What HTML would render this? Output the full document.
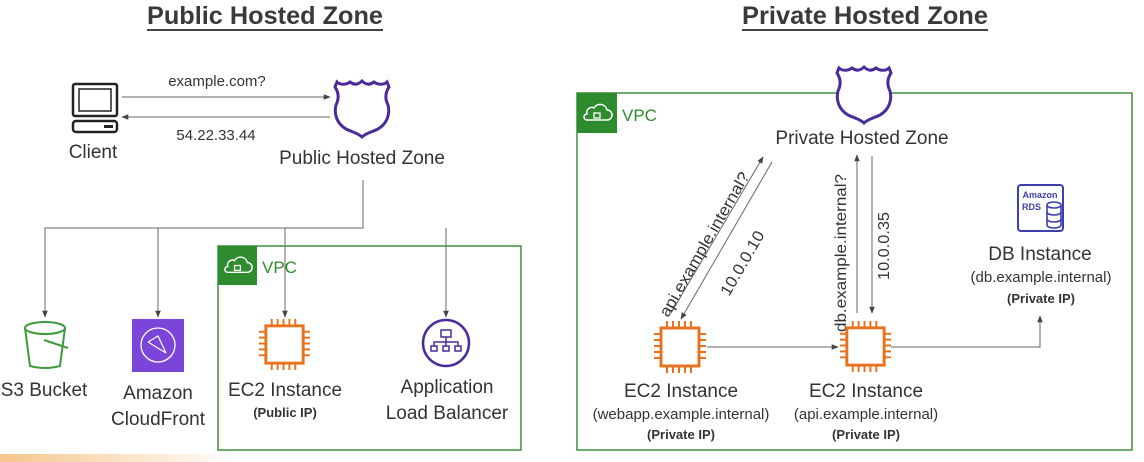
<!DOCTYPE html>
<html><head><meta charset="utf-8"><style>
body{margin:0;background:#fff}
svg{display:block;font-family:"Liberation Sans",sans-serif}
</style></head><body>
<svg width="1144" height="462" viewBox="0 0 1144 462" xmlns="http://www.w3.org/2000/svg">
<defs>
<marker id="a" viewBox="0 0 10 10" refX="9" refY="5" markerWidth="7" markerHeight="7" orient="auto"><path d="M0,1 L10,5 L0,9z" fill="#444"/></marker>
<linearGradient id="og" x1="0" x2="1"><stop offset="0" stop-color="#f0a040"/><stop offset="1" stop-color="#fff"/></linearGradient>
<symbol id="shield" viewBox="0 0 60 62"><path d="M30,4 C26,8 22,8 18,5 C14,8 8,8 5,5 L3,10 C7,16 7,22 4,28 C2,36 4,46 14,52 C20,55 26,56 30,60 C34,56 40,55 46,52 C56,46 58,36 56,28 C53,22 53,16 57,10 L55,5 C52,8 46,8 42,5 C38,8 34,8 30,4Z" fill="none" stroke="#4b2a9a" stroke-width="3"/></symbol>
<symbol id="chip" viewBox="0 0 54 54"><rect x="8" y="8" width="38" height="38" fill="none" stroke="#e8731e" stroke-width="3"/><g stroke="#e8731e" stroke-width="2"><path d="M14,1v7M20,1v7M26,1v7M32,1v7M38,1v7M14,46v7M20,46v7M26,46v7M32,46v7M38,46v7M1,14h7M1,20h7M1,26h7M1,32h7M1,38h7M46,14h7M46,20h7M46,26h7M46,32h7M46,38h7"/></g></symbol>
<symbol id="vpc" viewBox="0 0 40 40"><rect width="40" height="40" fill="#2e8b2e"/><path d="M10,27 h20 a5,5 0 0 0 0-10 a7,7 0 0 0-13-2 a5,5 0 0 0-7,6 a3,3 0 0 0 0,6z" fill="none" stroke="#fff" stroke-width="1.5"/><rect x="17" y="20" width="6" height="5" fill="none" stroke="#fff" stroke-width="1.3"/></symbol>
</defs>
<rect x="0" y="454" width="240" height="8" fill="url(#og)" opacity=".6"/>
<g font-weight="bold" fill="#3a3a3a" font-size="25">
<text x="147" y="24" textLength="236" lengthAdjust="spacingAndGlyphs">Public Hosted Zone</text>
<text x="742" y="24" textLength="246" lengthAdjust="spacingAndGlyphs">Private Hosted Zone</text>
</g>
<rect x="147" y="29" width="236" height="2" fill="#444"/>
<rect x="742" y="29" width="246" height="2" fill="#444"/>

<!-- Public side -->
<g fill="none" stroke="#222" stroke-width="2.5"><rect x="73" y="84" width="44" height="32" rx="2"/><rect x="79" y="89" width="32" height="22" stroke-width="1.5"/><rect x="73" y="121" width="44" height="11" rx="3"/></g>
<rect x="104" y="125" width="9" height="3" fill="#222"/>
<text x="93" y="158" font-size="19" text-anchor="middle" fill="#333">Client</text>
<use href="#shield" x="332" y="77" width="60" height="62"/>
<g stroke="#666" stroke-width="1" fill="none">
<line x1="122" y1="97" x2="330" y2="97" marker-end="url(#a)"/>
<line x1="330" y1="117" x2="122" y2="117" marker-end="url(#a)"/>
<path d="M363,180 V228 H45 V317" marker-end="url(#a)"/>
<path d="M158,228 V317" marker-end="url(#a)"/>
<path d="M285,228 V317" marker-end="url(#a)"/>
<path d="M446,228 V317" marker-end="url(#a)"/>
</g>
<text x="217" y="86" font-size="15" text-anchor="middle" fill="#333">example.com?</text>
<text x="216" y="140" font-size="15" text-anchor="middle" fill="#333">54.22.33.44</text>
<text x="362" y="164" font-size="19" text-anchor="middle" fill="#333">Public Hosted Zone</text>
<rect x="218" y="246" width="303" height="204" fill="none" stroke="#3f8f3f" stroke-width="1.5"/>
<use href="#vpc" x="218" y="246" width="39" height="39"/>
<text x="262" y="273" font-size="17" fill="#2e8b2e">VPC</text>
<!-- S3 -->
<g fill="none" stroke="#3c9a3c" stroke-width="2"><ellipse cx="45" cy="328" rx="20" ry="6"/><path d="M25,328 L30,366 Q45,370 60,366 L65,328"/><path d="M44,340 L68,348"/></g>
<text x="44" y="396" font-size="19" text-anchor="middle" fill="#333">S3 Bucket</text>
<!-- CF -->
<rect x="132" y="319" width="52" height="53" fill="#7a45d8"/>
<circle cx="158" cy="345" r="17" fill="none" stroke="#fff" stroke-width="1.3"/>
<path d="M148,342 L158,336 L166,353 M148,342 L166,353" stroke="#fff" stroke-width="1.2" fill="none"/>
<text x="158" y="399" font-size="19" text-anchor="middle" fill="#333">Amazon</text>
<text x="158" y="425" font-size="19" text-anchor="middle" fill="#333">CloudFront</text>
<use href="#chip" x="258" y="318" width="53" height="53"/>
<text x="285" y="396" font-size="19" text-anchor="middle" fill="#333">EC2 Instance</text>
<text x="285" y="417" font-size="13" font-weight="bold" text-anchor="middle" fill="#333">(Public IP)</text>
<circle cx="446" cy="343" r="23" fill="none" stroke="#4b2a9a" stroke-width="2.5"/>
<g fill="none" stroke="#4b2a9a" stroke-width="1.5"><rect x="441" y="330" width="10" height="7"/><path d="M446,337 V342 M434,346 V342 H458 V346 M446,342 V346"/><rect x="431" y="346" width="6" height="5"/><rect x="443" y="346" width="6" height="5"/><rect x="455" y="346" width="6" height="5"/></g>
<text x="447" y="393" font-size="19" text-anchor="middle" fill="#333">Application</text>
<text x="447" y="419" font-size="19" text-anchor="middle" fill="#333">Load Balancer</text>

<!-- Private side -->
<rect x="577" y="93" width="555" height="357" fill="none" stroke="#3f8f3f" stroke-width="1.5"/>
<use href="#vpc" x="577" y="93" width="40" height="40"/>
<text x="622" y="121" font-size="17" fill="#2e8b2e">VPC</text>
<rect x="838" y="90" width="52" height="6" fill="#fff"/>
<use href="#shield" x="834" y="63" width="60" height="62"/>
<text x="862" y="144" font-size="19" text-anchor="middle" fill="#333">Private Hosted Zone</text>
<g stroke="#666" stroke-width="1" fill="none">
<line x1="671" y1="313" x2="763" y2="157" marker-end="url(#a)"/>
<line x1="772" y1="162" x2="681" y2="319" marker-end="url(#a)"/>
<line x1="857" y1="313" x2="857" y2="155" marker-end="url(#a)"/>
<line x1="872" y1="156" x2="872" y2="313" marker-end="url(#a)"/>
<line x1="707" y1="347" x2="838" y2="347" marker-end="url(#a)"/>
<path d="M891,347 H1040 V316" marker-end="url(#a)"/>
</g>
<g font-size="16" fill="#333">
<text transform="translate(668,318) rotate(-60)" textLength="164" lengthAdjust="spacingAndGlyphs">api.example.internal?</text>
<text transform="translate(729,297) rotate(-60)" textLength="72" lengthAdjust="spacingAndGlyphs">10.0.0.10</text>
<text transform="translate(846,332) rotate(-90)" textLength="158" lengthAdjust="spacingAndGlyphs">db.example.internal?</text>
<text transform="translate(889,280) rotate(-90)" textLength="68" lengthAdjust="spacingAndGlyphs">10.0.0.35</text>
</g>
<rect x="1018" y="185" width="45" height="46" rx="3" fill="none" stroke="#3b3fb0" stroke-width="2"/>
<text x="1040" y="198" font-size="9" font-weight="bold" text-anchor="middle" fill="#3b3fb0">Amazon</text>
<text x="1022" y="210" font-size="9" font-weight="bold" fill="#3b3fb0">RDS</text>
<g fill="#fff" stroke="#3b3fb0" stroke-width="1.6"><path d="M1047,205 v20 a7,3 0 0 0 14,0 v-20"/><ellipse cx="1054" cy="205" rx="7" ry="3"/><path d="M1047,212 a7,3 0 0 0 14,0 M1047,219 a7,3 0 0 0 14,0" fill="none"/></g>
<text x="1040" y="260" font-size="19" text-anchor="middle" fill="#333">DB Instance</text>
<text x="1041" y="282" font-size="15" text-anchor="middle" fill="#333">(db.example.internal)</text>
<text x="1041" y="303" font-size="13" font-weight="bold" text-anchor="middle" fill="#333">(Private IP)</text>
<use href="#chip" x="653" y="320" width="54" height="54"/>
<use href="#chip" x="839" y="320" width="53" height="53"/>
<text x="681" y="397" font-size="19" text-anchor="middle" fill="#333">EC2 Instance</text>
<text x="681" y="419" font-size="15" text-anchor="middle" fill="#333">(webapp.example.internal)</text>
<text x="681" y="439" font-size="13" font-weight="bold" text-anchor="middle" fill="#333">(Private IP)</text>
<text x="866" y="397" font-size="19" text-anchor="middle" fill="#333">EC2 Instance</text>
<text x="866" y="419" font-size="15" text-anchor="middle" fill="#333">(api.example.internal)</text>
<text x="866" y="439" font-size="13" font-weight="bold" text-anchor="middle" fill="#333">(Private IP)</text>
</svg>
</body></html>
